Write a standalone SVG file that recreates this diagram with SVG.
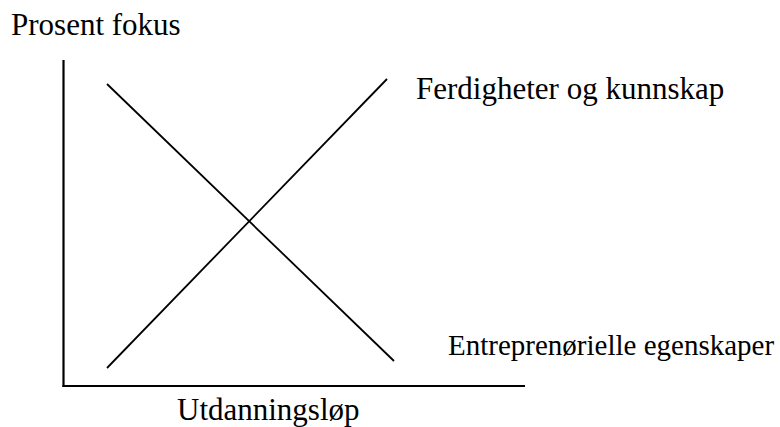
<svg xmlns="http://www.w3.org/2000/svg" width="780" height="427" viewBox="0 0 780 427">
<style>
.t{font-family:"Liberation Serif","Times New Roman",serif;fill:#000}
.ax{stroke:#000;stroke-width:2.2;fill:none}
.ln{stroke:#000;stroke-width:1.8;fill:none}
</style>
<rect width="780" height="427" fill="#fff"/>
<g id="axes">
<line class="ax" x1="63.5" y1="60" x2="63.5" y2="387"/>
<line class="ax" x1="62.5" y1="386" x2="525" y2="386"/>
</g>
<g id="connectors">
<line class="ln" x1="107" y1="84" x2="394" y2="361"/>
<line class="ln" x1="107" y1="368" x2="387" y2="79"/>
</g>
<g id="label-y"><text class="t" x="11" y="35" font-size="31">Prosent fokus</text></g>
<g id="label-ferdigheter"><text class="t" x="416" y="99" font-size="31">Ferdigheter og kunnskap</text></g>
<g id="label-entreprenorielle"><text class="t" x="448" y="355" font-size="29">Entreprenørielle egenskaper</text></g>
<g id="label-x"><text class="t" x="177" y="420" font-size="31">Utdanningsløp</text></g>
</svg>
